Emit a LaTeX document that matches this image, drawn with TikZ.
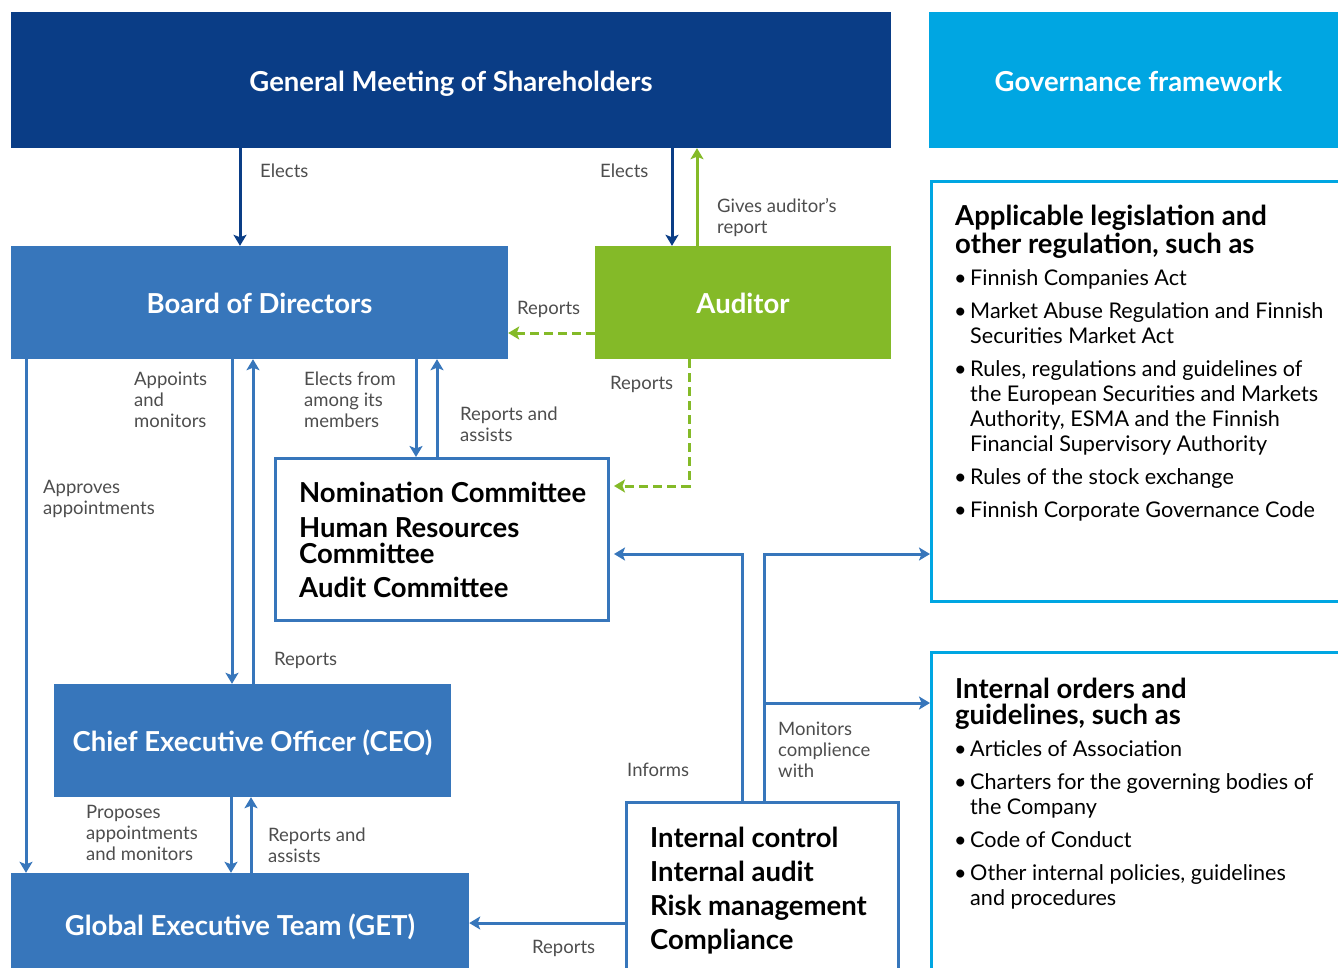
\documentclass[tikz,border=0pt]{standalone}
\usepackage{fontspec}
\setmainfont{Lato}
\usetikzlibrary{arrows.meta}
\definecolor{gmblue}{HTML}{0A3D86}
\definecolor{gfcyan}{HTML}{00A6E2}
\definecolor{bdblue}{HTML}{3776BB}
\definecolor{audgreen}{HTML}{84BA28}
\definecolor{lblgray}{HTML}{4D4D4D}
\newcommand{\bul}{\textbullet\kern3.5pt}
\tikzset{
    solidbox/.style={rectangle, draw=none, text=white, inner sep=0pt,
        text height=22.5pt, text depth=0pt,
        font=\fontsize{27.5}{30}\selectfont\bfseries},
    openbox/.style={rectangle, draw=#1, fill=white, line width=3pt,
        inner sep=0pt, anchor=north west}
}
\tikzset{
    boxtext/.style={anchor=north west, align=left, inner sep=0pt,
        font=\fontsize{27.5}{26}\selectfont\bfseries},
    headtext/.style={anchor=north west, align=left, inner sep=0pt,
        font=\fontsize{27.5}{27.5}\selectfont\bfseries},
    listtext/.style={anchor=north west, align=left, inner sep=0pt,
        font=\fontsize{21.6}{25}\selectfont},
    lbl/.style={anchor=north west, align=left, inner sep=0pt, text=lblgray,
        font=\fontsize{18.5}{21}\selectfont}
}
\tikzset{
    flow/.style={draw=#1, line width=3pt,
        -{Stealth[length=11pt, width=13pt, inset=2.5pt]}},
    flow/.default=bdblue,
    dashflow/.style={flow=audgreen, dash pattern=on 9pt off 5pt}
}

\begin{document}
\begin{tikzpicture}[x=1pt, y=-1pt]
	\useasboundingbox (0,0) rectangle (1338,967);

	\node (gm) [solidbox, fill=gmblue, minimum width=880pt, minimum height=136pt] at (451,80) {General Meeting of Shareholders};
	\node (gf) [solidbox, fill=gfcyan, minimum width=419pt, minimum height=136pt] at (1138.5,80) {Governance framework};
	\node (board) [solidbox, fill=bdblue, minimum width=497pt, minimum height=113pt] at (259.5,302.5) {Board of Directors};
	\node (auditor) [solidbox, fill=audgreen, minimum width=296pt, minimum height=113pt] at (743,302.5) {Auditor};
	\node (ceo) [solidbox, fill=bdblue, minimum width=397pt, minimum height=113pt] at (252.5,740.5) {Chief Executive Officer (CEO)};
	\node (get) [solidbox, fill=bdblue, minimum width=458pt, minimum height=102pt] at (240,924) {Global Executive Team (GET)};

	\node (comm) [openbox=bdblue, minimum width=333pt, minimum height=162pt] at (274,457) {};
	\node (icbox) [openbox=bdblue, minimum width=272pt, minimum height=200pt] at (625,801) {};
	\node (lawbox) [openbox=gfcyan, minimum width=440pt, minimum height=420pt] at (930,180) {};
	\node (ordbox) [openbox=gfcyan, minimum width=440pt, minimum height=360pt] at (930,651) {};

	\node (commtext) [boxtext] at (299,482) {Nomination Committee\\[9pt]Human Resources\\Committee\\[8pt]Audit Committee};
	\node (ictext) [boxtext] at (650,827) {Internal control\\[8pt]Internal audit\\[8pt]Risk management\\[8pt]Compliance};

	\node (lawhead) [headtext] at (955,205) {Applicable legislation and\\other regulation, such as};
	\node (lawlist) [listtext] at (954,269) {\bul Finnish Companies Act\\[8pt]
		\bul Market Abuse Regulation and Finnish\\\hphantom{\bul}Securities Market Act\\[8pt]
		\bul Rules, regulations and guidelines of\\\hphantom{\bul}the European Securities and Markets\\
		\hphantom{\bul}Authority, ESMA and the Finnish\\\hphantom{\bul}Financial Supervisory Authority\\[8pt]
		\bul Rules of the stock exchange\\[8pt]
		\bul Finnish Corporate Governance Code};
	\node (ordhead) [headtext] at (955,678) {Internal orders and\\[-1.5pt]guidelines, such as};
	\node (ordlist) [listtext] at (954,740) {\bul Articles of Association\\[8pt]
		\bul Charters for the governing bodies of\\\hphantom{\bul}the Company\\[8pt]
		\bul Code of Conduct\\[8pt]
		\bul Other internal policies, guidelines\\\hphantom{\bul}and procedures};

	\node (l1) [lbl] at (260,164) {Elects};
	\node (l2) [lbl] at (600,164) {Elects};
	\node (l3) [lbl] at (717,198) {Gives auditor’s\\report};
	\node (l4) [lbl] at (517,301) {Reports};
	\node (l5) [lbl] at (610,376) {Reports};
	\node (l6) [lbl] at (304,372) {Elects from\\among its\\members};
	\node (l7) [lbl] at (460,407) {Reports and\\assists};
	\node (l8) [lbl] at (134,372) {Appoints\\and\\monitors};
	\node (l9) [lbl] at (274,652) {Reports};
	\node (l10) [lbl] at (43,480) {Approves\\appointments};
	\node (l11) [lbl] at (86,805) {Proposes\\appointments\\and monitors};
	\node (l12) [lbl] at (268,828) {Reports and\\assists};
	\node (l13) [lbl] at (532,940) {Reports};
	\node (l14) [lbl] at (627,763) {Informs};
	\node (l15) [lbl] at (778,722) {Monitors\\complience\\with};

	\coordinate (split) at (764,703);

	\draw [flow=gmblue] (240,0 |- gm.south) -- (240,0 |- board.north);
	\draw [flow=gmblue] (672,0 |- gm.south) -- (672,0 |- auditor.north);
	\draw [flow=audgreen] (697,0 |- auditor.north) -- (697,0 |- gm.south);
	\draw [dashflow] (auditor.west |- 0,333) -- (board.east |- 0,333);
	\draw [dashflow, shorten >=4pt] (689,0 |- auditor.south) |- (comm.east |- 0,486);
	\draw [flow] (416,0 |- board.south) -- (416,0 |- comm.north);
	\draw [flow] (437,0 |- comm.north) -- (437,0 |- board.south);
	\draw [flow] (232,0 |- board.south) -- (232,0 |- ceo.north);
	\draw [flow] (253,0 |- ceo.north) -- (253,0 |- board.south);
	\draw [flow] (26,0 |- board.south) -- (26,0 |- get.north);
	\draw [flow] (231,0 |- ceo.south) -- (231,0 |- get.north);
	\draw [flow] (251,0 |- get.north) -- (251,0 |- ceo.south);
	\draw [flow] (icbox.west |- 0,923) -- (get.east |- 0,923);
	\draw [flow, shorten >=4pt] (742,0 |- icbox.north) |- (comm.east |- 0,554);
	\draw [flow] (764,0 |- icbox.north) |- (lawbox.west |- 0,554);
	\draw [flow] (split) -- (ordbox.west |- split);
\end{tikzpicture}
\end{document}
